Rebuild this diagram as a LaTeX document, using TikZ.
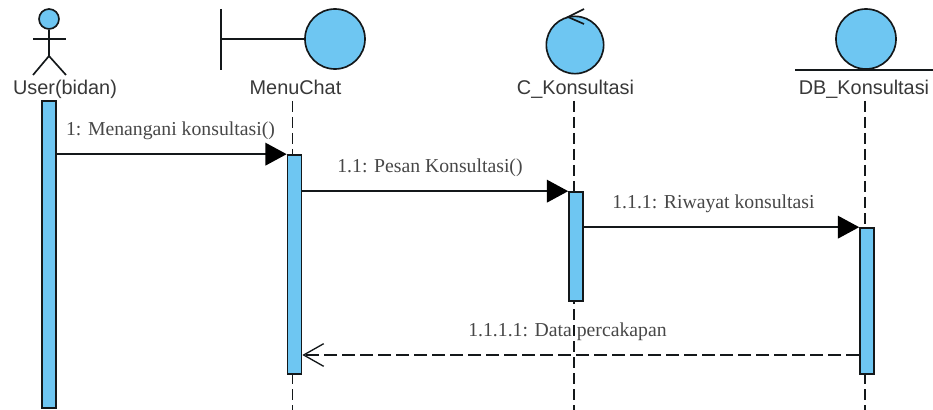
\documentclass[tikz,border=0pt]{standalone}
\usepackage{fontspec}
\setmainfont{Liberation Serif}
\setsansfont{Liberation Sans}
\usetikzlibrary{arrows.meta}
\definecolor{umlblue}{HTML}{6EC6F2}
\definecolor{umlline}{HTML}{14181A}

\begin{document}
\begin{tikzpicture}[x=0.75pt, y=-0.75pt, >=stealth,
            line width=1.25pt, color=umlline,
            head/.style = {circle, draw=umlline, fill=umlblue, inner sep=0pt, line width=1.25pt},
            bar/.style = {rectangle, draw=umlline, fill=umlblue, inner sep=0pt, minimum width=10.5pt, line width=1.25pt},
            objname/.style = {font=\sffamily\fontsize{14.9}{16}\selectfont, text=black!78, inner sep=0pt, anchor=base},
            msgtext/.style = {font=\fontsize{14.8}{16}\selectfont, text=black!72, inner sep=0pt, anchor=base},
            life/.style = {dash pattern=on 8.5pt off 3.5pt, line width=1.1pt},
            msg/.style = {-{Triangle[length=16pt, width=17pt, color=black]}},
            ret/.style = {dash pattern=on 10pt off 3.5pt, line width=1.1pt, -{Straight Barb[length=15pt, width=17pt, line width=1pt]}},
        ]
        \useasboundingbox (0,0) rectangle (933,410);

        % actor
        \node[head, minimum size=15pt] (userHead) at (49,19) {};
        \coordinate (userHip) at (49,56);
        \draw (userHead.south) -- (userHip);
        \draw (33,39) -- (66,39);
        \draw (33,75) -- (userHip) -- (66,75);

        % boundary
        \node[head, minimum size=45pt] (menuHead) at (335,39) {};
        \coordinate (menuWall) at (221,39);
        \draw (221,9) -- (221,70);
        \draw (menuWall) -- (menuHead.west);

        % control
        \node[head, minimum size=43pt] (ctrlHead) at (575,45) {};
        \draw (584,9) -- (568,17) -- (584,24);

        % entity
        \node[head, minimum size=45pt] (dbHead) at (866,39) {};
        \draw (795,70) -- (933,70);

        \node[objname] (userName) at (65,95) {User(bidan)};
        \node[objname] (menuName) at (295.5,95) {MenuChat};
        \node[objname] (ctrlName) at (575.5,95) {C\_Konsultasi};
        \node[objname] (dbName) at (864,95) {DB\_Konsultasi};

        % lifelines
        \foreach \x/\l in {292.5/menu, 574/ctrl, 865/db}
            {
                \coordinate (\l Top) at (\x,101);
                \coordinate (\l Bot) at (\x,410);
                \draw[life] (\l Top) -- (\l Bot);
            }

        \node[bar, minimum height=230.25pt] (userBar) at (49,254.5) {};
        \node[bar, minimum height=164.25pt] (menuBar) at (294.5,264.5) {};
        \node[bar, minimum height=81.75pt] (ctrlBar) at (576,246.5) {};
        \node[bar, minimum height=109.5pt] (dbBar) at (867,301) {};

        % messages
        \draw[msg] (userBar.east |- menuBar.north) -- (menuBar.north west);
        \draw[msg] (menuBar.east |- ctrlBar.north) -- (ctrlBar.north west);
        \draw[msg] (ctrlBar.east |- dbBar.north) -- (dbBar.north west);
        \coordinate (retY) at (0,355);
        \draw[ret] (dbBar.west |- retY) -- (menuBar.east |- retY);

        \node[msgtext] (msgA) at (170.5,136) {1: Menangani konsultasi()};
        \node[msgtext] (msgB) at (430,173) {1.1: Pesan Konsultasi()};
        \node[msgtext] (msgC) at (713.5,209) {1.1.1: Riwayat konsultasi};
        \node[msgtext] (msgD) at (567.5,336) {1.1.1.1: Data percakapan};
\end{tikzpicture}
\end{document}
